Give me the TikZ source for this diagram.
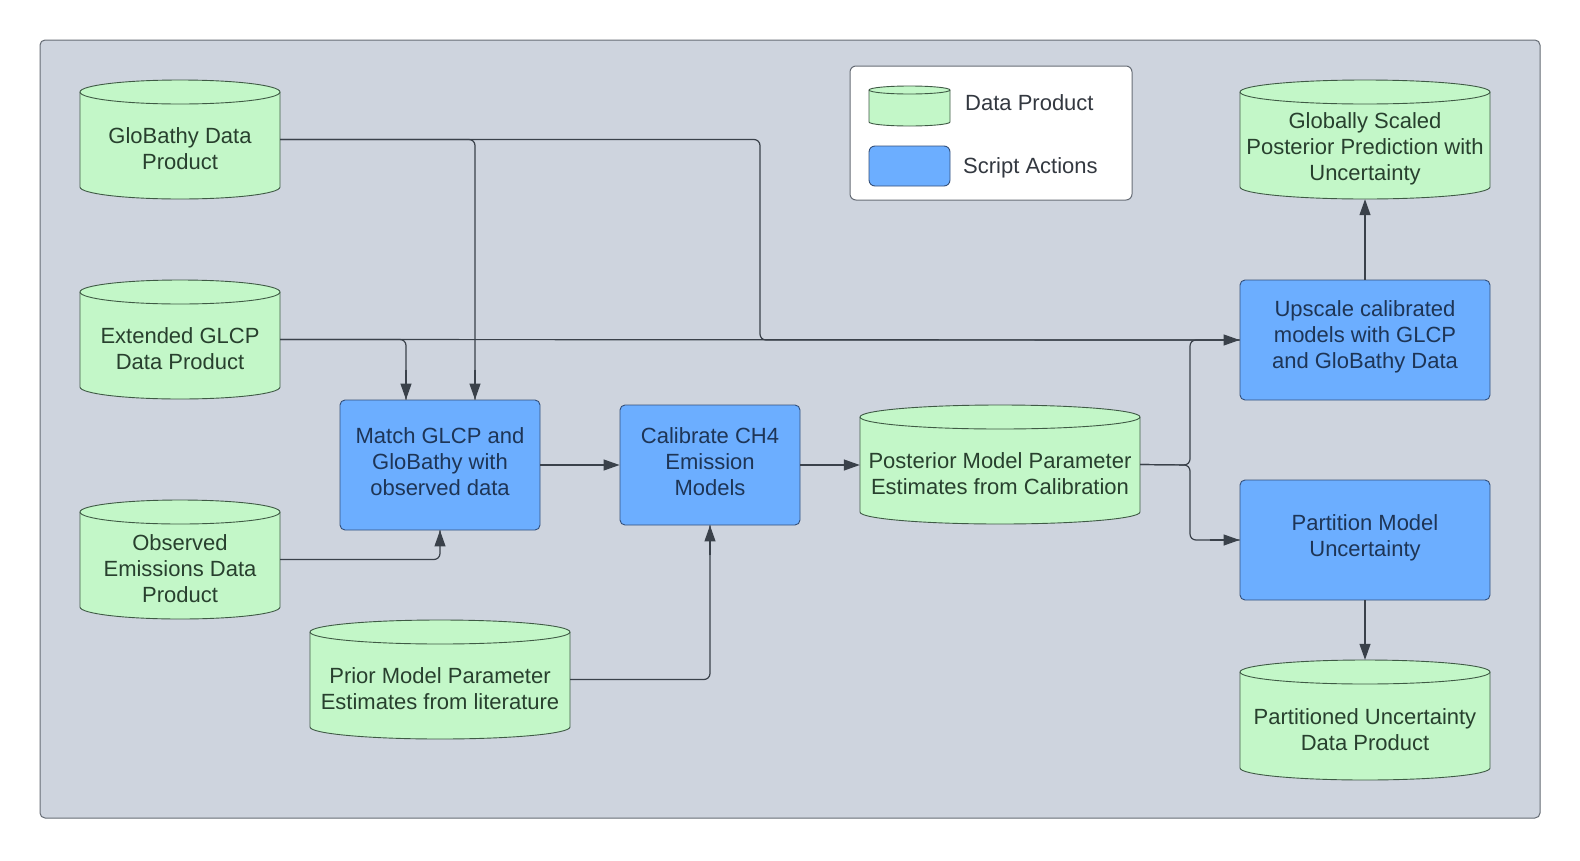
\documentclass[tikz,border=0pt]{standalone}
\usepackage{fontspec}
\setmainfont{Liberation Sans}
\usetikzlibrary{arrows.meta,calc}
\definecolor{bgc}{HTML}{CED4DE}
\definecolor{grn}{HTML}{C3F7C8}
\definecolor{blu}{HTML}{6CAEFF}
\definecolor{lnc}{HTML}{3A414A}
\definecolor{grnline}{HTML}{3F5A45}
\definecolor{bluline}{HTML}{34507A}
\definecolor{grntxt}{HTML}{28402E}
\definecolor{blutxt}{HTML}{1E3556}
\definecolor{frm}{HTML}{666C75}
\definecolor{legtxt}{HTML}{333840}
\tikzset{
  cylfill/.style={fill=grn, draw=grnline, line width=0.9pt},
  actbox/.style={rectangle, rounded corners=5pt, fill=blu, draw=bluline, line width=0.9pt, inner sep=0pt},
  acttext/.style={align=center, text=blutxt, font=\fontsize{22}{26}\selectfont, inner sep=0pt},
  cyltext/.style={align=center, text=grntxt, font=\fontsize{22}{26}\selectfont, inner sep=0pt},
  legtext/.style={anchor=west, text=legtxt, font=\fontsize{22}{26}\selectfont, inner sep=0pt},
  conn/.style={draw=lnc, line width=1.2pt, rounded corners=6pt},
  arrs/.style={draw=lnc, line width=1.2pt, -{Triangle[length=16pt,width=11pt]}},
  anchorbox/.style={rectangle, inner sep=0pt, draw=none},
}
\newcommand\mkcyl[7]{%
  \pgfmathsetmacro\cylrx{(#4-#2)/2}%
  \pgfmathsetmacro\cylcx{(#4+#2)/2}%
  \pgfmathsetmacro\cylcy{-(#3+#5)/2}%
  \pgfmathsetmacro\cylh{#5-#3}%
  \pgfmathsetmacro\cylw{#4-#2}%
  \path[cylfill] (#2,-#3-#6) -- (#2,-#5+#6)
    arc[start angle=180,end angle=360,x radius=\cylrx pt,y radius=#6 pt]
    -- (#4,-#3-#6)
    arc[start angle=0,end angle=180,x radius=\cylrx pt,y radius=#6 pt] -- cycle;
  \draw[draw=grnline,line width=0.9pt] (#2,-#3-#6)
    arc[start angle=180,end angle=360,x radius=\cylrx pt,y radius=#6 pt];
  \node[anchorbox, minimum width=\cylw pt, minimum height=\cylh pt] (#1) at (\cylcx,\cylcy) {};
  \node[cyltext] (#1-t) at ([yshift=-9.5pt]#1.center) {#7};
}
\begin{document}
\begin{tikzpicture}[x=1pt,y=1pt]
\useasboundingbox (0,0) rectangle (1580,-860);
\fill[white] (0,0) rectangle (1580,-860);
\draw[fill=bgc, draw=frm, line width=1pt, rounded corners=5pt] (40,-40) rectangle (1540,-818);

% legend
\draw[fill=white, draw=frm, line width=1pt, rounded corners=6pt] (850,-66) rectangle (1132,-200);
\mkcyl{legcyl}{869}{86}{950}{126}{4}{}
\draw[fill=blu, draw=bluline, line width=0.9pt, rounded corners=6pt] (869,-146) rectangle (950,-186);
\node[legtext] (legdp) at (965,-103) {Data Product};
\node[legtext] (legsa) at (963,-168) {Script Actions};

% data products
\mkcyl{glo}{80}{80}{280}{199}{12}{GloBathy Data\\Product}
\mkcyl{ext}{80}{280}{280}{399}{12}{Extended GLCP\\Data Product}
\mkcyl{obs}{80}{500}{280}{619}{12}{Observed\\Emissions Data\\Product}
\mkcyl{prior}{310}{620}{570}{739}{12}{Prior Model Parameter\\Estimates from literature}
\mkcyl{post}{860}{405}{1140}{524}{12}{Posterior Model Parameter\\Estimates from Calibration}
\mkcyl{gsp}{1240}{80}{1490}{199}{12}{Globally Scaled\\Posterior Prediction with\\Uncertainty}
\mkcyl{puc}{1240}{660}{1490}{780}{12}{Partitioned Uncertainty\\Data Product}

% script actions
\node[actbox, minimum width=200pt, minimum height=130pt] (match) at (440,-465) {};
\node[acttext] (match-t) at ([yshift=3pt]match.center) {Match GLCP and\\GloBathy with\\observed data};
\node[actbox, minimum width=180pt, minimum height=120pt] (cal) at (710,-465) {};
\node[acttext] (cal-t) at ([yshift=3pt]cal.center) {Calibrate CH4\\Emission\\Models};
\node[actbox, minimum width=250pt, minimum height=120pt] (up) at (1365,-340) {};
\node[acttext] (up-t) at ([yshift=3pt]up.center) {Upscale calibrated\\models with GLCP\\and GloBathy Data};
\node[actbox, minimum width=250pt, minimum height=120pt] (part) at (1365,-540) {};
\node[acttext] (part-t) at ([yshift=2pt]part.center) {Partition Model\\Uncertainty};

% connectors (rounded routes, then sharp arrow tips on the final run)
\coordinate (gb) at (760,-340);
\coordinate (pj) at (1190,-465);
\coordinate (m1) at ([xshift=35pt]match.north);
\coordinate (m2) at ([xshift=-34pt]match.north);
\draw[conn] (glo.east) -| (m1);
\draw[arrs] ([yshift=30pt]m1) -- (m1);
\draw[conn] (glo.east) -| (gb) -- (up.west);
\draw[conn] (ext.east) -| (m2);
\draw[arrs] ([yshift=30pt]m2) -- (m2);
\draw[arrs] (ext.east) -- (up.west);
\draw[conn] (obs.east) -| (match.south);
\draw[arrs] ([yshift=-15pt]match.south) -- (match.south);
\draw[arrs] (match.east) -- (cal.west);
\draw[conn] (prior.east) -| (cal.south);
\draw[arrs] ([yshift=-30pt]cal.south) -- (cal.south);
\draw[arrs] (cal.east) -- (post.west |- cal.east);
\draw[conn] (post.east) -- (pj) |- (up.west);
\draw[conn] (post.east) -- (pj) |- (part.west);
\draw[arrs] ([xshift=-30pt]part.west) -- (part.west);
\draw[arrs] (up.north) -- (gsp.south);
\draw[arrs] (part.south) -- (puc.north);
\end{tikzpicture}
\end{document}
